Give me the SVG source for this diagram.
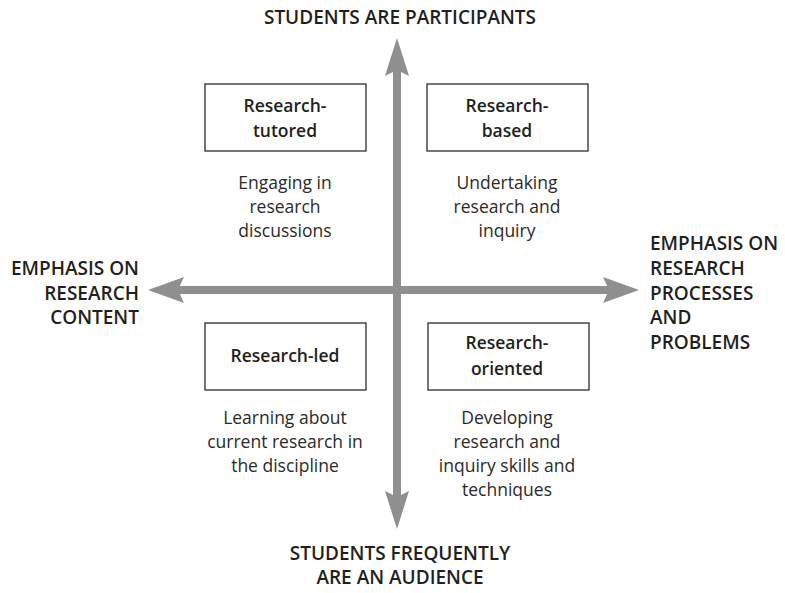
<svg xmlns="http://www.w3.org/2000/svg" width="785" height="593" viewBox="0 0 785 593">
<style>
.ax{stroke:#8f8f8f;stroke-width:8;fill:none}
.hd{fill:#8f8f8f}
.box{fill:#fff;stroke:#2b2b2b;stroke-width:1.3}
.lbl{font-family:"Open Sans","Liberation Sans",sans-serif;font-size:19px;fill:#231f20;font-weight:600}
.desc{font-family:"Open Sans","Liberation Sans",sans-serif;font-size:17.5px;fill:#2a2a2a;text-anchor:middle}
.nm{font-family:"Open Sans","Liberation Sans",sans-serif;font-size:17.5px;fill:#231f20;font-weight:600;text-anchor:middle}
</style>
<rect width="785" height="593" fill="#fff"/>
<g id="connectors">
<line class="ax" x1="397" y1="68" x2="397" y2="500"/>
<line class="ax" x1="176" y1="290" x2="612" y2="290"/>
<polygon class="hd" points="397,38 409,76 397,70 385,76"/>
<polygon class="hd" points="397,529 409,491 397,497 385,491"/>
<polygon class="hd" points="148,290 184,277 178,290 184,303"/>
<polygon class="hd" points="639,290 603,277 609,290 603,303"/>
</g>
<g id="axis-top"><text class="lbl" x="400" y="24" text-anchor="middle">STUDENTS ARE PARTICIPANTS</text></g>
<g id="axis-bottom"><text class="lbl" x="400" y="560" text-anchor="middle">STUDENTS FREQUENTLY</text><text class="lbl" x="400" y="584" text-anchor="middle">ARE AN AUDIENCE</text></g>
<g id="axis-left"><text class="lbl" x="139" y="275" text-anchor="end">EMPHASIS ON</text><text class="lbl" x="139" y="300" text-anchor="end">RESEARCH</text><text class="lbl" x="139" y="324" text-anchor="end">CONTENT</text></g>
<g id="axis-right"><text class="lbl" x="650" y="250">EMPHASIS ON</text><text class="lbl" x="650" y="275">RESEARCH</text><text class="lbl" x="650" y="300">PROCESSES</text><text class="lbl" x="650" y="324">AND</text><text class="lbl" x="650" y="349">PROBLEMS</text></g>
<g id="research-tutored">
<rect class="box" x="205" y="84" width="161" height="67"/>
<text class="nm" x="285" y="112">Research-</text><text class="nm" x="285" y="137">tutored</text>
<text class="desc" x="285" y="189">Engaging in</text><text class="desc" x="285" y="213">research</text><text class="desc" x="285" y="237">discussions</text>
</g>
<g id="research-based">
<rect class="box" x="427" y="84" width="161" height="67"/>
<text class="nm" x="507" y="112">Research-</text><text class="nm" x="507" y="137">based</text>
<text class="desc" x="507" y="189">Undertaking</text><text class="desc" x="507" y="213">research and</text><text class="desc" x="507" y="237">inquiry</text>
</g>
<g id="research-led">
<rect class="box" x="205" y="323" width="161" height="67"/>
<text class="nm" x="285" y="362">Research-led</text>
<text class="desc" x="285" y="424">Learning about</text><text class="desc" x="285" y="448">current research in</text><text class="desc" x="285" y="472">the discipline</text>
</g>
<g id="research-oriented">
<rect class="box" x="428" y="323" width="161" height="67"/>
<text class="nm" x="507" y="349">Research-</text><text class="nm" x="507" y="375">oriented</text>
<text class="desc" x="507" y="424">Developing</text><text class="desc" x="507" y="448">research and</text><text class="desc" x="507" y="472">inquiry skills and</text><text class="desc" x="507" y="496">techniques</text>
</g>
</svg>
